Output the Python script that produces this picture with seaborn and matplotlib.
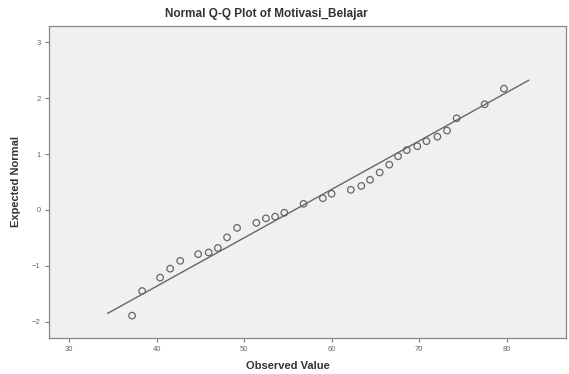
import matplotlib
matplotlib.use("Agg")
import matplotlib.pyplot as plt
import seaborn as sns
import pandas as pd

observed = [37.2, 38.35, 40.4, 41.55, 42.7, 44.75, 45.95, 47.0, 48.05, 49.2,
            51.4, 52.5, 53.55, 54.6, 56.8, 59.0, 60.0, 62.2, 63.4, 64.4,
            65.5, 66.6, 67.6, 68.6, 69.8, 70.85, 72.1, 73.2, 74.3, 77.5, 79.7]
expected = [-1.89, -1.45, -1.21, -1.05, -0.91, -0.79, -0.76, -0.68, -0.49, -0.32,
            -0.23, -0.15, -0.12, -0.05, 0.11, 0.21, 0.29, 0.36, 0.43, 0.54,
            0.67, 0.81, 0.96, 1.07, 1.14, 1.23, 1.31, 1.42, 1.64, 1.89, 2.17]
line_x = [34.4, 82.55]
line_y = [-1.85, 2.32]
x_ticks = [30, 40, 50, 60, 70, 80]
y_ticks = [-2, -1, 0, 1, 2, 3]

sns.set_theme(style="white")
plt.rcParams['font.family'] = ['Liberation Sans', 'DejaVu Sans']

W, H = 569, 374
fig = plt.figure(figsize=(W / 100, H / 100), dpi=100)
l, r, t, b = 49, 566, 26, 338
ax = fig.add_axes([l / W, 1 - b / H, (r - l) / W, (b - t) / H])
ax.set_facecolor('#f0f0f0')

df = pd.DataFrame({'obs': observed, 'exp': expected})
ld = pd.DataFrame({'x': line_x, 'y': line_y})
sns.lineplot(data=ld, x='x', y='y', ax=ax, color='#666666', linewidth=1.0)
sns.scatterplot(data=df, x='obs', y='exp', ax=ax, marker='o', s=22,
                facecolors='none', edgecolor='#666666', linewidth=0.9, zorder=3)

ax.set_xlim(27.7, 86.8)
ax.set_ylim(-2.29, 3.29)
ax.set_xticks(x_ticks)
ax.set_yticks(y_ticks)
ax.tick_params(axis='both', which='major', direction='out', length=3, width=0.8,
               color='#777777', labelsize=5.5, labelcolor='#666666', pad=3,
               bottom=True, left=True)
for s in ax.spines.values():
    s.set_color('#888888')
    s.set_linewidth(0.9)
ax.set_xlabel('')
ax.set_ylabel('')

fig.text(266 / W, 1 - 14 / H, 'Normal Q-Q Plot of Motivasi_Belajar', ha='center', va='center',
         fontsize=8.5, fontweight='bold', color='#333333')
fig.text(288 / W, 1 - 366 / H, 'Observed Value', ha='center', va='center',
         fontsize=8, fontweight='bold', color='#333333')
fig.text(16 / W, 1 - 182 / H, 'Expected Normal', ha='center', va='center', rotation=90,
         fontsize=8, fontweight='bold', color='#333333')

fig.savefig('out.png', dpi=100, facecolor='white')
